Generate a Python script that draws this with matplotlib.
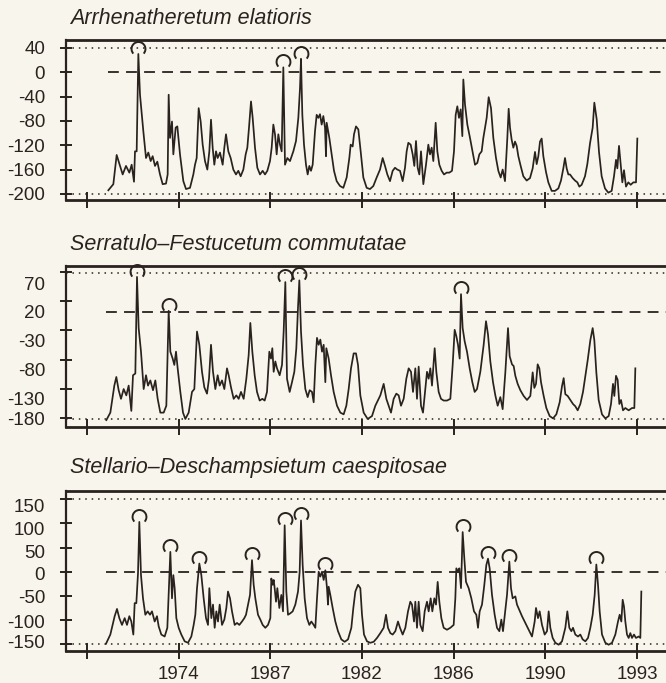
import numpy as np
import matplotlib
matplotlib.use("Agg")
import matplotlib.pyplot as plt
from matplotlib.path import Path

plt.rcParams['font.family'] = ['Liberation Sans', 'DejaVu Sans']

# ---------------- data ----------------
titles = ["Arrhenatheretum elatioris",
          "Serratulo\u2013Festucetum commutatae",
          "Stellario\u2013Deschampsietum caespitosae"]

# time axis: one tick interval = 275 time units
x_tick_pos = [0, 275, 550, 825, 1100, 1375, 1650]
x_tick_labels = ["", "1974", "1987", "1982", "1986", "1990", "1993"]

t1 = [64, 79, 89, 99, 107, 117, 127, 134, 141, 144, 149, 154, 159, 169, 177, 184, 191, 197, 204, 211,
      219, 227, 237, 242, 245, 249, 255, 259, 266, 271, 279, 289, 297, 309, 319, 324, 329, 335, 341, 347,
      354, 361, 367, 372, 377, 382, 387, 392, 399, 407, 412, 417, 424, 431, 439, 447, 454, 461, 469, 476,
      481, 486, 492, 497, 504, 511, 519, 527, 534, 541, 549, 554, 559, 564, 569, 574, 579, 584, 589, 594,
      601, 609, 619, 627, 634, 639, 642, 646, 651, 657, 662, 667, 672, 677, 684, 689, 694, 699, 704, 709,
      714, 717, 719, 727, 734, 741, 749, 759, 769, 779, 787, 791, 797, 801, 807, 814, 821, 829, 839, 849,
      859, 869, 879, 887, 894, 901, 909, 917, 924, 931, 939, 947, 954, 959, 964, 971, 977, 982, 987, 992,
      997, 1002, 1009, 1017, 1024, 1029, 1034, 1039, 1046, 1051, 1057, 1064, 1071, 1079, 1087, 1095, 1101,
      1106, 1111, 1116, 1121, 1126, 1129, 1134, 1141, 1149, 1157, 1164, 1171, 1177, 1184, 1189, 1199, 1205,
      1212, 1219, 1227, 1234, 1241, 1247, 1254, 1261, 1265, 1269, 1274, 1279, 1284, 1289, 1294, 1301, 1309,
      1319, 1329, 1337, 1344, 1349, 1354, 1359, 1364, 1369, 1377, 1384, 1394, 1404, 1414, 1422, 1429, 1434,
      1439, 1444, 1449, 1457, 1464, 1471, 1477, 1484, 1494, 1501, 1509, 1517, 1522, 1529, 1536, 1544, 1554,
      1564, 1574, 1581, 1587, 1591, 1596, 1601, 1606, 1611, 1617, 1624, 1631, 1639, 1647, 1651]
v1 = [-194, -184, -136, -154, -168, -154, -165, -152, -180, -130, -130, 30, -37, -97, -141, -132, -146, -138, -154, -147,
      -168, -184, -183, -168, -37, -108, -81, -135, -91, -89, -135, -179, -192, -190, -168, -152, -141, -59, -81, -119,
      -146, -160, -130, -78, -124, -152, -130, -141, -132, -152, -124, -102, -130, -141, -160, -168, -162, -171, -160, -135,
      -124, -91, -48, -75, -124, -157, -168, -162, -168, -162, -146, -124, -86, -102, -135, -102, -119, -130, 8, -152,
      -141, -146, -130, -113, -75, -26, 22, -70, -119, -152, -168, -154, -162, -152, -97, -70, -75, -69, -86, -72,
      -91, -138, -83, -108, -135, -162, -179, -187, -190, -173, -141, -119, -122, -102, -89, -94, -130, -173, -190, -192,
      -187, -173, -160, -141, -154, -168, -179, -162, -157, -160, -162, -179, -157, -130, -116, -119, -135, -154, -113, -157,
      -168, -130, -184, -152, -119, -135, -124, -146, -83, -130, -152, -162, -168, -165, -165, -162, -130,
      -70, -56, -75, -61, -105, -12, -53, -86, -108, -132, -152, -149, -135, -130, -108, -75, -41,
      -59, -108, -141, -162, -173, -160, -179, -108, -60, -91, -111, -124, -114, -121, -138, -154, -171,
      -178, -174, -158, -131, -151, -138, -114, -109, -138, -164, -181, -195, -195, -191, -178, -158, -141,
      -158, -168, -168, -174, -178, -181, -188, -185, -171, -151, -117, -91, -50, -77, -131, -171, -191,
      -198, -195, -171, -144, -158, -121, -151, -181, -161, -188, -181, -185, -181, -181, -109]

t2 = [58, 70, 82, 88, 95, 102, 110, 118, 125, 133, 138, 145, 150, 155, 162, 170, 177, 183, 190, 198,
      205, 212, 220, 230, 238, 245, 250, 257, 262, 267, 272, 280, 288, 295, 305, 315, 322, 330, 337, 345,
      352, 360, 366, 372, 378, 385, 392, 398, 405, 412, 420, 425, 432, 440, 448, 455, 462, 470, 478, 485,
      490, 496, 503, 510, 518, 526, 533, 540, 547, 552, 556, 560, 565, 570, 578, 585, 590, 595, 600, 608,
      615, 622, 628, 633, 637, 642, 648, 655, 662, 668, 675, 680, 685, 690, 695, 700, 705, 710, 715, 718,
      725, 732, 740, 750, 760, 770, 778, 785, 792, 800, 807, 813, 820, 830, 842, 855, 865, 880, 890, 898,
      905, 912, 920, 928, 935, 942, 950, 958, 965, 972, 978, 985, 990, 995, 1002, 1008, 1015, 1020, 1025,
      1030, 1035, 1043, 1048, 1055, 1062, 1070, 1080, 1090, 1097, 1103, 1108, 1113, 1118, 1122, 1127, 1133,
      1140, 1148, 1156, 1163, 1170, 1175, 1180, 1190, 1197, 1203, 1210, 1218, 1225, 1232, 1240, 1247, 1255,
      1263, 1268, 1275, 1280, 1285, 1292, 1300, 1310, 1320, 1330, 1337, 1342, 1347, 1352, 1357, 1362, 1370,
      1378, 1388, 1398, 1408, 1418, 1425, 1430, 1435, 1442, 1450, 1458, 1465, 1472, 1480, 1488, 1495, 1502,
      1510, 1517, 1522, 1528, 1535, 1545, 1555, 1565, 1572, 1578, 1582, 1587, 1592, 1597, 1602, 1608, 1615,
      1625, 1635, 1642, 1645]
v2 = [-168, -155, -108, -93, -116, -131, -114, -125, -108, -152, -90, -87, 81, -8, -49, -114, -90, -108, -99, -116,
      -99, -131, -155, -155, -143, 22, -49, -61, -72, -49, -78, -119, -155, -166, -155, -119, -114, -14, -37, -84,
      -111, -122, -96, -37, -84, -114, -90, -108, -99, -114, -78, -90, -111, -131, -125, -131, -119, -131, -96, -55,
      1, -49, -90, -119, -134, -131, -134, -119, -49, -61, -43, -84, -66, -78, -90, -72, -14, 72, -96, -119,
      -102, -84, -43, 28, 75, -14, -72, -114, -128, -116, -119, -137, -72, -25, -37, -28, -49, -37, -102, -43,
      -61, -90, -119, -143, -155, -158, -143, -114, -78, -52, -52, -72, -125, -155, -166, -161, -143, -125, -105, -131,
      -143, -155, -131, -122, -125, -143, -131, -96, -78, -84, -119, -78, -131, -75, -143, -155, -114, -84, -96,
      -78, -108, -43, -84, -119, -131, -134, -134, -131, -72, -11, -22, -37, -61, 51, -8, -31,
      -49, -78, -102, -119, -114, -99, -84, -37, 4, -19, -66, -102, -125, -143, -128, -149, -85,
      -8, -57, -71, -74, -91, -105, -116, -126, -133, -126, -85, -112, -105, -71, -78, -102, -126,
      -147, -161, -165, -158, -137, -109, -95, -123, -126, -133, -140, -144, -151, -140, -119, -91, -64,
      -29, -8, -29, -85, -133, -158, -165, -161, -140, -105, -126, -91, -98, -140, -133, -151, -147,
      -151, -147, -147, -78]

t3 = [57, 70, 83, 90, 97, 105, 113, 120, 127, 133, 139, 143, 148, 153, 157, 162, 168, 175, 182, 189,
      195, 203, 210, 215, 223, 233, 241, 245, 250, 255, 259, 263, 268, 275, 283, 293, 303, 313, 320, 325,
      330, 337, 343, 350, 357, 363, 367, 373, 378, 383, 388, 393, 398, 405, 412, 418, 423, 429, 435, 443,
      450, 457, 465, 472, 477, 483, 489, 495, 500, 505, 513, 520, 527, 535, 543, 550, 553, 557, 560, 563,
      567, 571, 577, 583, 588, 593, 598, 603, 610, 617, 625, 633, 638, 642, 647, 653, 660, 667, 673, 680,
      685, 690, 695, 700, 705, 710, 715, 720, 723, 725, 730, 737, 745, 753, 763, 773, 783, 793, 799, 805,
      813, 820, 825, 831, 840, 850, 860, 870, 880, 890, 897, 903, 910, 917, 925, 933, 939, 947, 955, 963,
      970, 975, 981, 985, 990, 995, 1000, 1007, 1013, 1020, 1025, 1031, 1036, 1042, 1047, 1052, 1057, 1063,
      1070, 1080, 1090, 1100, 1105, 1108, 1113, 1117, 1122, 1127, 1132, 1137, 1145, 1153, 1161, 1168, 1173,
      1178, 1185, 1192, 1198, 1203, 1208, 1215, 1223, 1230, 1237, 1243, 1248, 1260, 1267, 1272, 1277, 1285,
      1290, 1297, 1305, 1315, 1325, 1335, 1343, 1347, 1353, 1358, 1365, 1373, 1380, 1385, 1390, 1397, 1405,
      1415, 1425, 1435, 1441, 1447, 1453, 1458, 1465, 1473, 1480, 1487, 1495, 1503, 1510, 1517, 1523, 1528,
      1533, 1538, 1545, 1555, 1565, 1575, 1585, 1593, 1598, 1603, 1607, 1611, 1615, 1620, 1625, 1630, 1635,
      1641, 1647, 1655, 1660, 1663]
v3 = [-149, -130, -92, -77, -96, -110, -96, -110, -92, -103, -130, -65, -65, -3, 103, -7, -55, -89, -82, -89,
      -82, -103, -92, -113, -130, -134, -116, -48, 41, -55, -7, -34, -96, -116, -130, -144, -147, -134, -110, -89,
      -34, 17, -7, -55, -96, -110, -34, -96, -68, -116, -82, -103, -68, -110, -99, -75, -41, -55, -82, -110,
      -106, -110, -103, -96, -89, -68, -48, 24, -27, -55, -89, -99, -110, -116, -110, -96, -14, -27, -17, -34,
      -62, -34, -75, -48, -82, 96, -41, -89, -86, -82, -68, -41, 0, 106, 14, -55, -96, -110, -103, -110,
      -116, -55, 0, -10, 0, -17, 3, -34, -68, -31, -48, -75, -103, -123, -140, -145, -140, -116, -75, -41,
      -27, -34, -89, -130, -144, -147, -145, -137, -127, -116, -89, -116, -127, -130, -123, -103, -116, -130, -116, -82,
      -62, -68, -103, -62, -116, -62, -110, -123, -82, -62, -82, -55, -82, -55, -68, -21, -62, -96,
      -116, -120, -116, -110, -55, 7, 0, 7, -34, 82, 27, -21, -34, -55, -82, -89, -116,
      -82, -68, -27, 14, 27, 7, -48, -89, -116, -123, -99, -123, -48, 21, -34, -55, -51,
      -68, -79, -92, -106, -120, -134, -103, -75, -96, -82, -110, -130, -123, -82, -116, -137, -147,
      -151, -144, -116, -82, -116, -123, -116, -130, -134, -130, -140, -144, -137, -116, -89, -48, 15,
      -27, -82, -130, -147, -151, -147, -130, -103, -89, -103, -58, -72, -103, -130, -137, -127, -137,
      -130, -137, -134, -137, -41]

series_t = [t1, t2, t3]
series_v = [v1, v2, v3]
thresholds = [0, 20, 0]            # dashed reference lines
upper_limits = [40, 88, 150]       # upper dotted lines
lower_limits = [-200, -166, -150]  # lower dotted lines
y_ranges = [(-210, 53), (-180, 100), (-164, 167)]
y_tick_marks = [[40, 0, -40, -80, -120, -160, -200],
                [89, 39, -12, -64, -114, -164],
                [150, 100, 50, 0, -50, -100, -150]]
y_label_pos = [[40, 0, -40, -80, -120, -160, -200],
               [70, 20, -30, -80, -130, -165],
               [137, 89, 41, -3, -51, -103, -144]]
y_label_text = [["40", "0", "-40", "-80", "-120", "-160", "-200"],
                ["70", "20", "-30", "-80", "-130", "-180"],
                ["150", "100", "50", "0", "-50", "-100", "-150"]]

# ---------------- style ----------------
BG = "#f8f5ec"
INK = "#2a221e"
W, H = 666, 683
fig = plt.figure(figsize=(W / 100, H / 100), dpi=100, facecolor=BG)

panel_px = [(40, 200), (266, 427), (491, 651)]   # top/bottom of each box
title_px = [18, 245, 468]
left_px = 66

# horseshoe marker (arc open at the bottom, sitting above the point)
arc = Path.arc(-42, 222)
arc_marker = Path(arc.vertices + np.array([0.0, 0.8]), arc.codes)

for i in range(3):
    top, bot = panel_px[i]
    ax = fig.add_axes([left_px / W, 1 - bot / H, 1 - left_px / W, (bot - top) / H])
    ax.set_facecolor(BG)
    ax.yaxis.remove_overlapping_locs = False
    t = np.asarray(series_t[i], float)
    v = np.asarray(series_v[i], float)

    ax.set_xlim(-63, 1737)
    ax.set_ylim(*y_ranges[i])

    ax.axhline(upper_limits[i], color=INK, lw=1.1, ls=(0, (1, 3.2)), zorder=1)
    ax.axhline(lower_limits[i], color=INK, lw=1.1, ls=(0, (1, 3.2)), zorder=1)
    ax.plot([t[0], 1737], [thresholds[i]] * 2, color=INK, lw=1.3, ls=(0, (6, 4)), zorder=1)

    ax.plot(t, v, color=INK, lw=1.25, zorder=3)

    # mark peaks exceeding the dashed reference line
    pk = [j for j in range(len(v))
          if v[j] > thresholds[i] and v[j] == v[np.abs(t - t[j]) <= 20].max()]
    ax.plot(t[pk], v[pk], ls="none", marker=arc_marker, ms=18, mfc="none",
            mec=INK, mew=1.4, zorder=4, clip_on=False)

    ax.spines["right"].set_visible(False)
    ax.spines["top"].set_linewidth(2.0)
    ax.spines["bottom"].set_linewidth(2.0)
    ax.spines["left"].set_linewidth(1.6)
    for s in ["top", "bottom", "left"]:
        ax.spines[s].set_color(INK)

    ax.set_xticks(x_tick_pos)
    if i == 2:
        ax.set_xticklabels(x_tick_labels)
    else:
        ax.set_xticklabels([])
    ax.tick_params(axis="x", direction="inout", length=11, width=1.4, color=INK,
                   labelsize=13.5, labelcolor=INK, pad=5)

    ax.set_yticks(y_tick_marks[i])
    ax.set_yticklabels([])
    ax.set_yticks(y_label_pos[i], minor=True)
    ax.set_yticklabels(y_label_text[i], minor=True)
    ax.tick_params(axis="y", which="major", direction="inout", length=8, width=1.4, color=INK)
    ax.tick_params(axis="y", which="minor", length=0, pad=15, labelsize=13.5, labelcolor=INK)

    fig.text(70 / W, 1 - title_px[i] / H, titles[i], style="italic", fontsize=15.5,
             color=INK, va="center", ha="left")

fig.savefig("out.png", dpi=100, facecolor=BG)
